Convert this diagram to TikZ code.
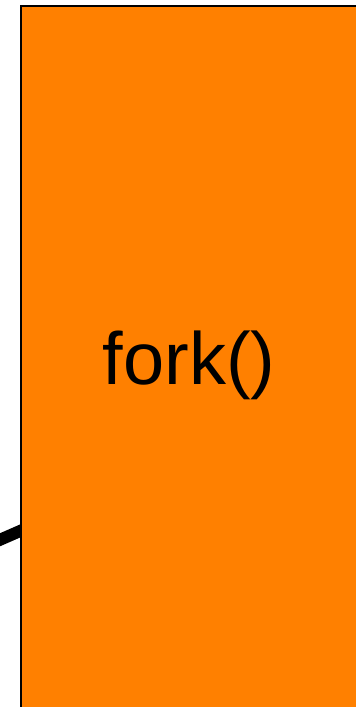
\documentclass[tikz,border=0pt]{standalone}
\usepackage{fontspec}
\setmainfont{Liberation Sans}
\usetikzlibrary{backgrounds}

\begin{document}
\begin{tikzpicture}[
  x=1pt,y=-1pt,
  proc/.style={draw=black,fill=orange,line width=2pt,inner sep=0pt,
               minimum width=336pt,minimum height=718pt,
               font=\fontsize{74}{88}\selectfont},
  wire/.style={line width=12pt,draw=black}
]
\useasboundingbox (0,0) rectangle (356,707);
\clip (0,0) rectangle (356,707);

%%%%%%%%%%%%%%%%%%%%%% fork box %%%%%%%%%%%%%%%%%%%%%%%%%%%%%%%
\node[proc] (forkbox) at (189,365) {fork()};

%%%%%%%%%%%%%%%%%%%%%% incoming edge %%%%%%%%%%%%%%%%%%%%%%%%%%
\coordinate (src) at (-12,545);
\begin{scope}[on background layer]
  \clip (0,0) rectangle (356,707);
  \draw[wire] (src) -- ([xshift=6pt,yshift=-163.4pt]forkbox.west);
\end{scope}
\end{tikzpicture}
\end{document}
